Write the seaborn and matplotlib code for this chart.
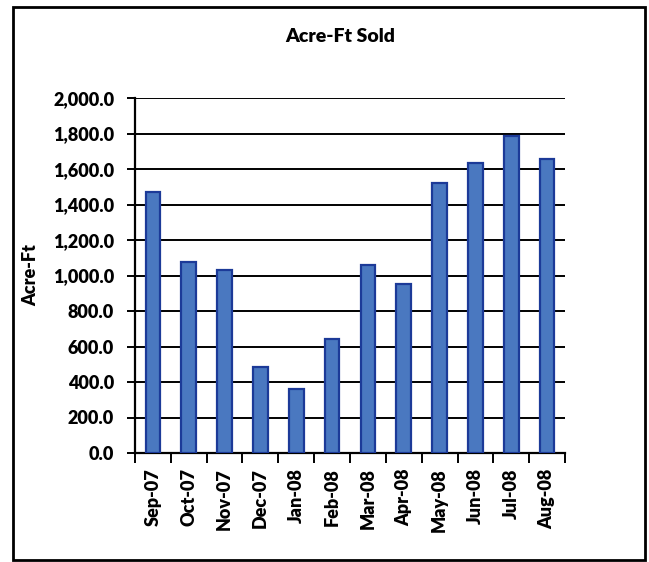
import matplotlib
matplotlib.use("Agg")
import matplotlib.pyplot as plt
from matplotlib.patches import Rectangle
from matplotlib.ticker import FuncFormatter, FixedLocator
import seaborn as sns
import pandas as pd

months = ["Sep-07", "Oct-07", "Nov-07", "Dec-07", "Jan-08", "Feb-08",
          "Mar-08", "Apr-08", "May-08", "Jun-08", "Jul-08", "Aug-08"]
acre_ft = [1472, 1074, 1031, 486, 361, 640, 1059, 952, 1519, 1635, 1785, 1656]
y_ticks = [0, 200, 400, 600, 800, 1000, 1200, 1400, 1600, 1800, 2000]

WEIGHT = "heavy"

sns.set_theme(style="white")
plt.rcParams["font.family"] = ["Lato", "DejaVu Sans"]
plt.rcParams["font.weight"] = WEIGHT
plt.rcParams["text.color"] = "black"
plt.rcParams["xtick.color"] = "black"
plt.rcParams["ytick.color"] = "black"
plt.rcParams["axes.labelcolor"] = "black"

df = pd.DataFrame({"Month": months, "Acre-Ft": acre_ft})

fig = plt.figure(figsize=(6.49, 5.62), dpi=100)
ax = fig.add_axes([135 / 649, 1 - 453 / 562, (565 - 135) / 649, (453 - 98) / 562])

sns.barplot(data=df, x="Month", y="Acre-Ft", ax=ax, color="#4a78c0",
            saturation=1, width=0.41, edgecolor="#1c3a98", linewidth=1.6,
            zorder=3)

ax.set_ylim(0, 2000)
ax.set_xlim(-0.5, len(months) - 0.5)
ax.yaxis.set_major_locator(FixedLocator(y_ticks))
ax.yaxis.set_major_formatter(FuncFormatter(lambda v, _: f"{v:,.1f}"))
ax.grid(axis="y", color="black", linewidth=1.4, zorder=0)
ax.set_axisbelow(True)

# category boundary ticks on the x axis
ax.set_xticks([i - 0.5 for i in range(len(months) + 1)], minor=True)
ax.tick_params(axis="x", which="major", length=0, pad=11, labelsize=13,
               rotation=90)
ax.tick_params(axis="x", which="minor", length=7, width=1.4, color="black",
               direction="out", bottom=True)
ax.tick_params(axis="y", which="major", length=6, width=1.4, color="black",
               direction="out", left=True, labelsize=13, pad=9)
for lbl in ax.get_xticklabels() + ax.get_yticklabels():
    lbl.set_fontweight(WEIGHT)

for side in ("top", "right"):
    ax.spines[side].set_visible(False)
for side in ("left", "bottom"):
    ax.spines[side].set_color("black")
    ax.spines[side].set_linewidth(1.6)

ax.set_xlabel("")
ax.set_ylabel("Acre-Ft", fontsize=13, fontweight=WEIGHT)
ax.yaxis.set_label_coords(-0.222, 0.5)

fig.text(340 / 649, 1 - 37 / 562, "Acre-Ft Sold", ha="center", va="center",
         fontsize=14, fontweight=WEIGHT)

# chart frame
fig.patches.append(Rectangle((13 / 649, 1 - 560 / 562), (645 - 13) / 649,
                             (560 - 7) / 562, transform=fig.transFigure,
                             fill=False, edgecolor="black", linewidth=2))

fig.savefig("out.png", dpi=100, facecolor="white")
